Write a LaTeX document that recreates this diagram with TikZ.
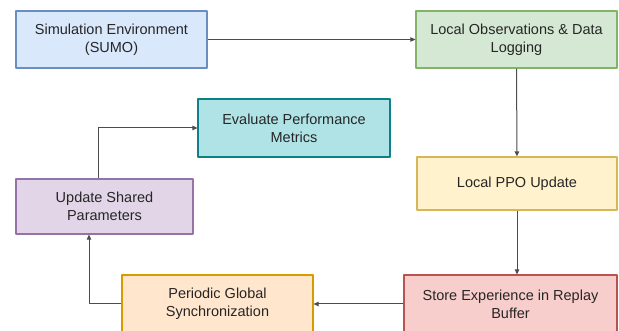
\documentclass[tikz,border=0pt]{standalone}
\usepackage{fontspec}
\setmainfont{Liberation Sans}
\usetikzlibrary{arrows.meta}

%% 框的配色（填充 / 边框）
\definecolor{simfill}{HTML}{DAE8FC}   \definecolor{simline}{HTML}{6C8EBF}
\definecolor{obsfill}{HTML}{D5E8D4}   \definecolor{obsline}{HTML}{82B366}
\definecolor{evalfill}{HTML}{B0E3E6}  \definecolor{evalline}{HTML}{0E8088}
\definecolor{updfill}{HTML}{E1D5E7}   \definecolor{updline}{HTML}{9673A6}
\definecolor{ppofill}{HTML}{FFF2CC}   \definecolor{ppoline}{HTML}{D6B656}
\definecolor{perfill}{HTML}{FFE6CC}   \definecolor{perline}{HTML}{D79B00}
\definecolor{storefill}{HTML}{F8CECC} \definecolor{storeline}{HTML}{B85450}

\begin{document}
\begin{tikzpicture}[x=1pt, y=-1pt, line join=round,
  box/.style={draw, line width=1.2pt, inner sep=0pt, align=center,
    text=black!85, font=\fontsize{14.5}{18}\selectfont},
  flow/.style={draw=black!70, line width=1pt, -{Triangle[length=5pt,width=4.5pt]}}]

  %% ════ 方框（中心 + 尺寸）════
  \node[box, fill=simfill, draw=simline, minimum width=191, minimum height=57]
    (sim) at (111.5,39.5) {Simulation Environment\\(SUMO)};
  \node[box, fill=obsfill, draw=obsline, minimum width=201, minimum height=57]
    (obs) at (516.5,39.5) {Local Observations \& Data\\Logging};
  \node[box, fill=evalfill, draw=evalline, minimum width=192, minimum height=58]
    (eval) at (294,128) {Evaluate Performance\\Metrics};
  \node[box, fill=updfill, draw=updline, minimum width=177, minimum height=55]
    (upd) at (104.5,206.5) {Update Shared\\Parameters};
  \node[box, fill=ppofill, draw=ppoline, minimum width=200, minimum height=53]
    (ppo) at (517,183.5) {Local PPO Update};
  \node[box, fill=perfill, draw=perline, minimum width=191, minimum height=58]
    (per) at (217.5,304) {Periodic Global\\Synchronization};
  \node[box, fill=storefill, draw=storeline, minimum width=213, minimum height=58]
    (store) at (510.5,304) {Store Experience in Replay\\Buffer};

  %% ════ 连线 ════
  \draw[flow] (sim) -- (obs);
  \draw[flow] (obs) -- (ppo);
  \draw[flow] (ppo.south) -- (ppo.south |- store.north);
  \draw[flow] (store) -- (per);
  \draw[flow] (per.west) -| ([xshift=-15.5pt]upd.south);
  \draw[flow] ([xshift=-6.5pt]upd.north) |- (eval.west);

  % 钉死画布
  \pgfresetboundingbox
  \path[use as bounding box] (0,0) rectangle (619,331);
\end{tikzpicture}
\end{document}
